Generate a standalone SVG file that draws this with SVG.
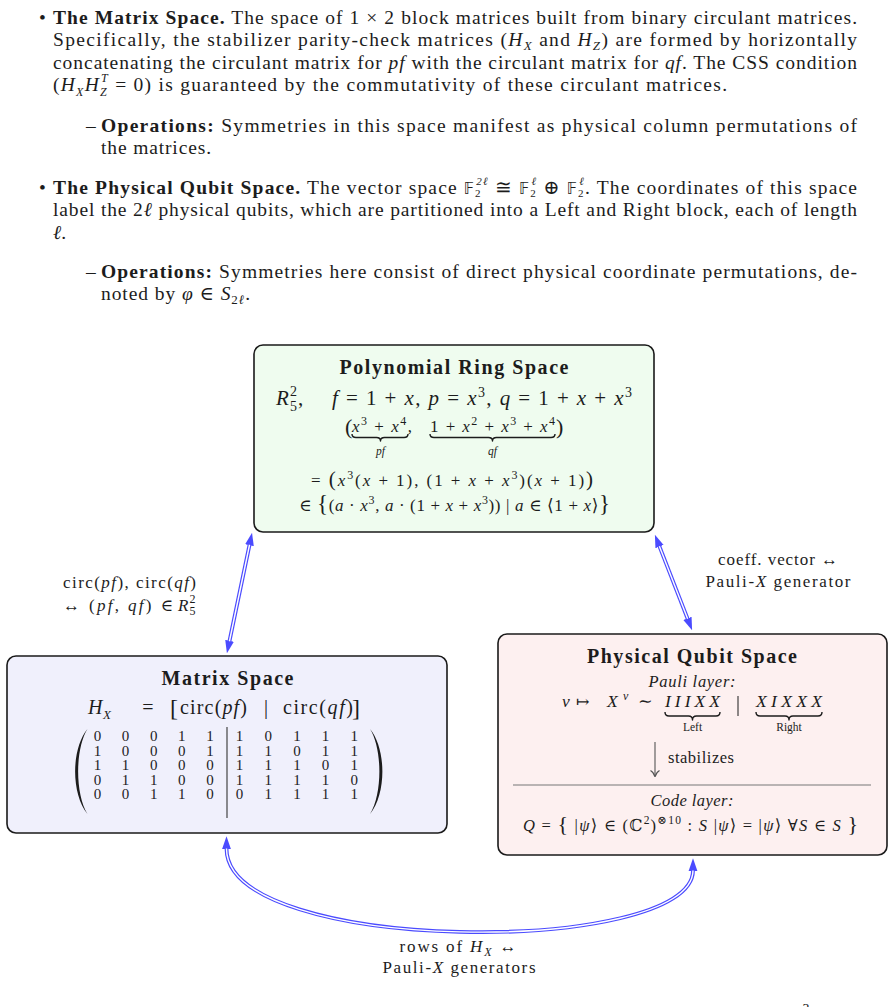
<svg xmlns="http://www.w3.org/2000/svg" width="894" height="1007" viewBox="0 0 894 1007">
<style>
text{font-family:"Liberation Serif","DejaVu Serif",serif;fill:#1c1c1c}
.p{font-size:19.5px}
.b{font-weight:bold}
.i{font-style:italic}
.m{text-anchor:middle}
.box{stroke:#1a1a1a;stroke-width:1.6}
.brace{fill:none;stroke:#1c1c1c;stroke-width:1.4;stroke-linejoin:round}
.mat{font-size:15px;text-anchor:middle}
.bb{font-family:"DejaVu Sans",sans-serif;font-size:15px}
.cout{fill:none;stroke:#4b4bff;stroke-width:3.8}
.cin{fill:none;stroke:#ffffff;stroke-width:1.4}
.lbl{font-size:17px}
</style>
<defs>
<marker id="ah" markerUnits="userSpaceOnUse" markerWidth="13" markerHeight="10" viewBox="0 0 13 10" refX="0.5" refY="5" orient="auto-start-reverse">
<path d="M0,0.6 L12.8,5 L0,9.4 Z" fill="#4b4bff"/>
</marker>
</defs>

<g id="top-text">
<text class="p" x="39" y="23.5">•</text>
<text class="p" x="53" y="23.5" textLength="804" lengthAdjust="spacing"><tspan class="b">The Matrix Space.</tspan> The space of 1 × 2 block matrices built from binary circulant matrices.</text>
<text class="p" x="53" y="46" textLength="804" lengthAdjust="spacing">Specifically, the stabilizer parity-check matrices (<tspan class="i">H</tspan><tspan class="i" font-size="13" baseline-shift="-4">X</tspan> and <tspan class="i">H</tspan><tspan class="i" font-size="13" baseline-shift="-4">Z</tspan>) are formed by horizontally</text>
<text class="p" x="53" y="68.5" textLength="804" lengthAdjust="spacing">concatenating the circulant matrix for <tspan class="i">pf</tspan> with the circulant matrix for <tspan class="i">qf</tspan>. The CSS condition</text>
<text class="p" x="53" y="91" textLength="674" lengthAdjust="spacing">(<tspan class="i">H</tspan><tspan class="i" font-size="12" baseline-shift="-5">X</tspan><tspan class="i">H</tspan><tspan class="i" font-size="12" baseline-shift="-5">Z</tspan><tspan class="i" font-size="12" dx="-7" baseline-shift="9">T</tspan> = 0) is guaranteed by the commutativity of these circulant matrices.</text>
<text class="p" x="86" y="131.5">–</text>
<text class="p" x="101" y="131.5" textLength="756" lengthAdjust="spacing"><tspan class="b">Operations:</tspan> Symmetries in this space manifest as physical column permutations of</text>
<text class="p" x="101" y="154" textLength="110" lengthAdjust="spacing">the matrices.</text>
<text class="p" x="39" y="193.5">•</text>
<text class="p" x="53" y="193.5" textLength="804" lengthAdjust="spacing"><tspan class="b">The Physical Qubit Space.</tspan> The vector space <tspan class="bb">𝔽</tspan><tspan font-size="11" baseline-shift="-3">2</tspan><tspan class="i" font-size="11" dx="-5.5" baseline-shift="9">2ℓ</tspan> ≅ <tspan class="bb">𝔽</tspan><tspan font-size="11" baseline-shift="-3">2</tspan><tspan class="i" font-size="11" dx="-5.5" baseline-shift="9">ℓ</tspan> ⊕ <tspan class="bb">𝔽</tspan><tspan font-size="11" baseline-shift="-3">2</tspan><tspan class="i" font-size="11" dx="-5.5" baseline-shift="9">ℓ</tspan>. The coordinates of this space</text>
<text class="p" x="53" y="216" textLength="804" lengthAdjust="spacing">label the 2<tspan class="i">ℓ</tspan> physical qubits, which are partitioned into a Left and Right block, each of length</text>
<text class="p" x="53" y="238.5"><tspan class="i">ℓ</tspan>.</text>
<text class="p" x="86" y="277.5">–</text>
<text class="p" x="101" y="277.5" textLength="756" lengthAdjust="spacing"><tspan class="b">Operations:</tspan> Symmetries here consist of direct physical coordinate permutations, de-</text>
<text class="p" x="101" y="300" textLength="149" lengthAdjust="spacing">noted by <tspan class="i">φ</tspan> ∈ <tspan class="i">S</tspan><tspan font-size="13" baseline-shift="-4">2<tspan class="i">ℓ</tspan></tspan>.</text>
</g>

<g id="node-polynomial">
<rect class="box" x="254" y="345" width="400" height="187" rx="9" fill="#effcef"/>
<text class="b m" x="454" y="374" font-size="20" textLength="229" lengthAdjust="spacing">Polynomial Ring Space</text>
<text class="i" x="276" y="405" font-size="21">R</text>
<text x="290" y="396" font-size="14">2</text>
<text x="290" y="411" font-size="14">5</text>
<text x="298" y="405" font-size="21">,</text>
<text x="332" y="405" font-size="21" textLength="300" lengthAdjust="spacing"><tspan class="i">f</tspan> = 1 + <tspan class="i">x</tspan>, <tspan class="i">p</tspan> = <tspan class="i">x</tspan><tspan font-size="14" baseline-shift="8">3</tspan>, <tspan class="i">q</tspan> = 1 + <tspan class="i">x</tspan> + <tspan class="i">x</tspan><tspan font-size="14" baseline-shift="8">3</tspan></text>
<text x="345" y="434" font-size="22">(</text>
<text x="352" y="432" font-size="17" textLength="60" lengthAdjust="spacing"><tspan class="i">x</tspan><tspan font-size="12" baseline-shift="7">3</tspan> + <tspan class="i">x</tspan><tspan font-size="12" baseline-shift="7">4</tspan>,</text>
<text x="430" y="432" font-size="17" textLength="125" lengthAdjust="spacing">1 + <tspan class="i">x</tspan><tspan font-size="12" baseline-shift="7">2</tspan> + <tspan class="i">x</tspan><tspan font-size="12" baseline-shift="7">3</tspan> + <tspan class="i">x</tspan><tspan font-size="12" baseline-shift="7">4</tspan></text>
<text x="556" y="434" font-size="22">)</text>
<path class="brace" d="M352,434 Q352,437.5 356,437.5 L376.5,437.5 Q380.5,437.5 380.5,441 Q380.5,437.5 384.5,437.5 L404,437.5 Q408,437.5 408,434"/>
<path class="brace" d="M430,434 Q430,437.5 434,437.5 L488.5,437.5 Q492.5,437.5 492.5,441 Q492.5,437.5 496.5,437.5 L551,437.5 Q555,437.5 555,434"/>
<text class="i m" x="380.5" y="455" font-size="11.5">pf</text>
<text class="i m" x="492.5" y="455" font-size="11.5">qf</text>
<text x="311" y="486" font-size="17" textLength="282" lengthAdjust="spacing">= <tspan font-size="21">(</tspan><tspan class="i">x</tspan><tspan font-size="12" baseline-shift="7">3</tspan>(<tspan class="i">x</tspan> + 1), (1 + <tspan class="i">x</tspan> + <tspan class="i">x</tspan><tspan font-size="12" baseline-shift="7">3</tspan>)(<tspan class="i">x</tspan> + 1)<tspan font-size="21">)</tspan></text>
<text x="299" y="511" font-size="17" textLength="311" lengthAdjust="spacing">∈ <tspan font-size="23">{</tspan>(<tspan class="i">a</tspan> · <tspan class="i">x</tspan><tspan font-size="12" baseline-shift="7">3</tspan>, <tspan class="i">a</tspan> · (1 + <tspan class="i">x</tspan> + <tspan class="i">x</tspan><tspan font-size="12" baseline-shift="7">3</tspan>)) | <tspan class="i">a</tspan> ∈ ⟨1 + <tspan class="i">x</tspan>⟩<tspan font-size="23">}</tspan></text>
</g>

<g id="node-matrix">
<rect class="box" x="7" y="656" width="440" height="177" rx="9" fill="#f0f0fc"/>
<text class="b m" x="227.5" y="685" font-size="20" textLength="132" lengthAdjust="spacing">Matrix Space</text>
<text class="i" x="88" y="714" font-size="20">H</text>
<text class="i" x="103" y="719" font-size="13">X</text>
<text class="m" x="148" y="714" font-size="20">=</text>
<text x="170" y="716" font-size="24">[</text>
<text x="180" y="714" font-size="20" textLength="67" lengthAdjust="spacing">circ(<tspan class="i">pf</tspan>)</text>
<text class="m" x="266" y="714" font-size="20">|</text>
<text x="283" y="714" font-size="20" textLength="70" lengthAdjust="spacing">circ(<tspan class="i">qf</tspan>)</text>
<text x="352" y="716" font-size="24">]</text>
<path d="M87.5,729 C71,749 71,794 87.5,814 C75,794 75,749 87.5,729 Z" fill="#1c1c1c"/>
<path d="M370,729 C386.5,749 386.5,794 370,814 C382.5,794 382.5,749 370,729 Z" fill="#1c1c1c"/>
<line x1="227" y1="727" x2="227" y2="818" stroke="#444" stroke-width="1.2"/>
<text class="mat" x="97.5 125.6 153.7 181.8 209.9 239.5 268.2 296.9 325.6 354.3" y="741">0001110111</text>
<text class="mat" x="97.5 125.6 153.7 181.8 209.9 239.5 268.2 296.9 325.6 354.3" y="755.5">1000111011</text>
<text class="mat" x="97.5 125.6 153.7 181.8 209.9 239.5 268.2 296.9 325.6 354.3" y="770">1100011101</text>
<text class="mat" x="97.5 125.6 153.7 181.8 209.9 239.5 268.2 296.9 325.6 354.3" y="784.5">0110011110</text>
<text class="mat" x="97.5 125.6 153.7 181.8 209.9 239.5 268.2 296.9 325.6 354.3" y="799">0011001111</text>
</g>

<g id="node-physical">
<rect class="box" x="498" y="634" width="389" height="221" rx="9" fill="#fdf0f0"/>
<text class="b m" x="692" y="663" font-size="20" textLength="210" lengthAdjust="spacing">Physical Qubit Space</text>
<text class="i m" x="692" y="687" font-size="16.5" textLength="87" lengthAdjust="spacing">Pauli layer:</text>
<text class="i" x="562" y="707" font-size="17.5">v</text>
<text x="576" y="707" font-size="16">↦</text>
<text class="i" x="607" y="707" font-size="17.5">X</text>
<text class="i" x="623" y="700" font-size="12">v</text>
<text x="638" y="707" font-size="17.5">∼</text>
<text class="i" x="665" y="707" font-size="17.5" textLength="55" lengthAdjust="spacing">IIIXX</text>
<line x1="738" y1="696" x2="738" y2="716" stroke="#1c1c1c" stroke-width="1"/>
<text class="i" x="756" y="707" font-size="17.5" textLength="66" lengthAdjust="spacing">XIXXX</text>
<path class="brace" d="M665,712 Q665,716 669,716 L688.5,716 Q692.5,716 692.5,720 Q692.5,716 696.5,716 L716,716 Q720,716 720,712"/>
<path class="brace" d="M756,712 Q756,716 760,716 L785,716 Q789,716 789,720 Q789,716 793,716 L818,716 Q822,716 822,712"/>
<text class="m" x="692.5" y="731" font-size="11.5">Left</text>
<text class="m" x="789" y="731" font-size="11.5">Right</text>
<line x1="655" y1="742" x2="655" y2="776" stroke="#555" stroke-width="1.1"/>
<path d="M650.5,770.5 Q654,772.5 655,777 Q656,772.5 659.5,770.5" fill="none" stroke="#555" stroke-width="1.1"/>
<text x="668" y="763" font-size="16.5" textLength="66" lengthAdjust="spacing">stabilizes</text>
<line x1="513" y1="785" x2="871" y2="785" stroke="#777" stroke-width="1.1"/>
<text class="i m" x="692" y="806" font-size="16.5" textLength="83" lengthAdjust="spacing">Code layer:</text>
<text x="523" y="831" font-size="16.5" textLength="335" lengthAdjust="spacing"><tspan class="i">Q</tspan> = <tspan font-size="22">{</tspan> |<tspan class="i">ψ</tspan>⟩ ∈ (ℂ<tspan font-size="11.5" baseline-shift="7">2</tspan>)<tspan font-size="11.5" baseline-shift="7">⊗10</tspan> : <tspan class="i">S</tspan> |<tspan class="i">ψ</tspan>⟩ = |<tspan class="i">ψ</tspan>⟩ ∀<tspan class="i">S</tspan> ∈ <tspan class="i">S</tspan> <tspan font-size="22">}</tspan></text>
</g>

<g id="connectors">
<g id="edge-matrix-polynomial">
<path class="cout" d="M229.45,641.25 L249.55,544.75" marker-start="url(#ah)" marker-end="url(#ah)"/>
<path class="cin" d="M229.45,641.25 L249.55,544.75"/>
</g>
<g id="edge-polynomial-physical">
<path class="cout" d="M659.36,546.18 L687.64,618.82" marker-start="url(#ah)" marker-end="url(#ah)"/>
<path class="cin" d="M659.36,546.18 L687.64,618.82"/>
</g>
<g id="edge-matrix-physical">
<path class="cout" d="M226.5,848.5 C226.5,956 693,956 693,870.5" marker-start="url(#ah)" marker-end="url(#ah)"/>
<path class="cin" d="M226.5,848.5 C226.5,956 693,956 693,870.5"/>
</g>
</g>

<g id="edge-labels">
<text class="lbl" x="63" y="588" textLength="133" lengthAdjust="spacing">circ(<tspan class="i">pf</tspan>), circ(<tspan class="i">qf</tspan>)</text>
<text class="lbl" x="63" y="611" textLength="110" lengthAdjust="spacing">↔ (<tspan class="i">pf</tspan>, <tspan class="i">qf</tspan>) ∈</text>
<text class="lbl i" x="178" y="611">R</text>
<text x="189.5" y="603" font-size="12">2</text>
<text x="189.5" y="615" font-size="12">5</text>
<text class="lbl m" x="778" y="565" textLength="120" lengthAdjust="spacing">coeff. vector ↔</text>
<text class="lbl m" x="778" y="587" textLength="145" lengthAdjust="spacing">Pauli-<tspan class="i">X</tspan> generator</text>
<text class="lbl m" x="458" y="952" textLength="117" lengthAdjust="spacing">rows of <tspan class="i">H</tspan><tspan class="i" font-size="12" baseline-shift="-4">X</tspan> ↔</text>
<text class="lbl m" x="459" y="973" textLength="153" lengthAdjust="spacing">Pauli-<tspan class="i">X</tspan> generators</text>
</g>

<text x="806" y="1013.5" font-size="14" class="m">3</text>
</svg>
